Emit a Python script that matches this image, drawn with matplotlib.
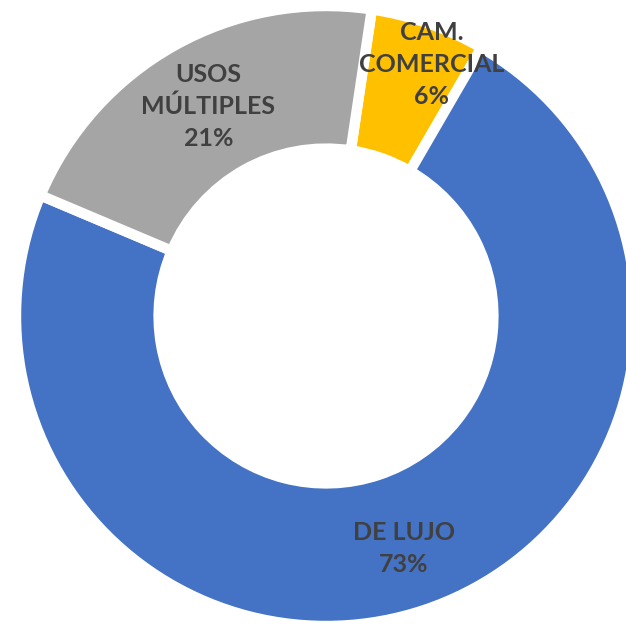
import numpy as np
import matplotlib.pyplot as plt

# datos del gráfico
categorias = ["CAM.\nCOMERCIAL", "DE LUJO", "USOS\nMÚLTIPLES"]
porcentajes = [6, 73, 21]
colores = ["#FFC000", "#4472C4", "#A5A5A5"]

fig = plt.figure(figsize=(6.26, 6.24), dpi=100)
ax = fig.add_axes([0, 0, 1, 1])

wedges, _ = ax.pie(
    porcentajes,
    colors=colores,
    startangle=81.5,
    counterclock=False,
    radius=1.0,
    wedgeprops=dict(width=0.46, edgecolor="white", linewidth=7.5),
)

# posición de las etiquetas (distancia y pequeño giro por porción)
dist = [0.88, 0.79, 0.775]
giro = [-3.5, 0, 0]
for w, cat, pct, d, g in zip(wedges, categorias, porcentajes, dist, giro):
    ang = np.deg2rad((w.theta1 + w.theta2) / 2 + g)
    ax.text(d * np.cos(ang), d * np.sin(ang), f"{cat}\n{pct}%",
            ha="center", va="center", fontsize=18, fontweight="bold",
            color="#404040", family="Lato", linespacing=1.45)

ax.set_xlim(-326 / 310, 300 / 310)
ax.set_ylim(-308 / 310, 316 / 310)
ax.set_aspect("equal")
ax.axis("off")

fig.savefig("out.png", dpi=100)
